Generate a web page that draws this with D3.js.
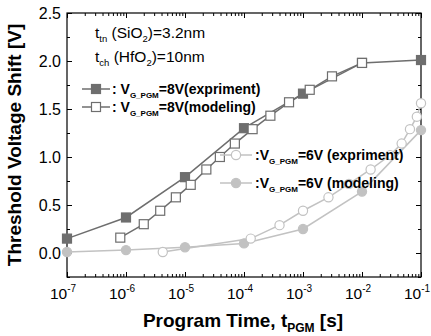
<!DOCTYPE html>
<html><head><meta charset="utf-8">
<script src="https://cdn.jsdelivr.net/npm/d3@7"></script>
<style>body{margin:0;background:#fff;} svg{display:block;font-family:"Liberation Sans",Arial,sans-serif;}</style>
</head><body><svg id="c" width="431" height="336"></svg>
<script>
// ---- data ----
const exp8T = [1e-7, 1e-6, 1e-5, 1e-4, 1e-3, 1e-2, 1e-1];
const exp8V = [0.15, 0.37, 0.79, 1.30, 1.66, 1.98, 2.01];
const mod8T = [8e-7, 2e-6, 3.8e-6, 7e-6, 1.25e-5, 2.3e-5, 3.9e-5, 7e-5, 1.4e-4, 2.8e-4, 5.8e-4, 1.3e-3, 3.1e-3, 1e-2];
const mod8V = [0.16, 0.30, 0.44, 0.58, 0.71, 0.87, 1.00, 1.14, 1.29, 1.43, 1.57, 1.70, 1.84, 1.98];
const exp6T = [4.2e-6, 1.3e-4, 4e-4, 1e-3, 2.7e-3, 6e-3, 1.4e-2, 3e-2, 4.7e-2, 6.5e-2, 8.5e-2, 1e-1];
const exp6V = [0.01, 0.15, 0.29, 0.44, 0.58, 0.72, 0.87, 1.02, 1.14, 1.29, 1.42, 1.56];
const mod6T = [1e-7, 1e-6, 1e-5, 1e-4, 1e-3, 1e-2, 1e-1];
const mod6V = [0.01, 0.03, 0.06, 0.10, 0.25, 0.64, 1.28];
const xTickExp = [-7, -6, -5, -4, -3, -2, -1];
const yTicks = [0.0, 0.5, 1.0, 1.5, 2.0, 2.5];

const svg = d3.select("#c");
const L = 67, R = 421, T = 13, B = 277;
const x = d3.scaleLog().domain([1e-7, 1e-1]).range([L, R]);
const y = d3.scaleLinear().domain([-0.25, 2.5]).range([B, T]);

const dark = "#6e6e6e", light = "#c2c2c2";

// frame
svg.append("rect").attr("x", L).attr("y", T).attr("width", R - L).attr("height", B - T)
  .attr("fill", "none").attr("stroke", "#000").attr("stroke-width", 1.2);

// axes with inward ticks
const minorX = [];
for (let e = -7; e < -1; e++) for (let k = 2; k <= 9; k++) minorX.push(k * Math.pow(10, e));
const majorX = xTickExp.map(e => Math.pow(10, e));
const mkAxis = (axis, tr) => {
  const g = svg.append("g").attr("transform", tr).call(axis);
  g.select(".domain").remove();
  g.selectAll("line").attr("stroke", "#000");
  return g;
};
mkAxis(d3.axisBottom(x).tickValues(majorX).tickSize(-5).tickFormat(""), `translate(0,${B})`);
mkAxis(d3.axisBottom(x).tickValues(minorX).tickSize(-3).tickFormat(""), `translate(0,${B})`);
mkAxis(d3.axisTop(x).tickValues(majorX).tickSize(-5).tickFormat(""), `translate(0,${T})`);
mkAxis(d3.axisTop(x).tickValues(minorX).tickSize(-3).tickFormat(""), `translate(0,${T})`);
const minorY = d3.range(-0.25, 2.5, 0.5).map(v => +v.toFixed(2));
mkAxis(d3.axisLeft(y).tickValues(yTicks).tickSize(-5).tickFormat(""), `translate(${L},0)`);
mkAxis(d3.axisLeft(y).tickValues(minorY).tickSize(-3).tickFormat(""), `translate(${L},0)`);
mkAxis(d3.axisRight(y).tickValues(yTicks).tickSize(-5).tickFormat(""), `translate(${R},0)`);
mkAxis(d3.axisRight(y).tickValues(minorY).tickSize(-3).tickFormat(""), `translate(${R},0)`);

// tick labels
yTicks.forEach(v => {
  svg.append("text").attr("x", 61).attr("y", y(v) + 5.5).attr("text-anchor", "end")
    .attr("font-size", 16).text(v.toFixed(1));
});
xTickExp.forEach(e => {
  const t = svg.append("text").attr("x", x(Math.pow(10, e)) - 4).attr("y", 299)
    .attr("text-anchor", "middle").attr("font-size", 15.5);
  t.append("tspan").text("10");
  t.append("tspan").attr("dy", -7).attr("font-size", 10).text("-" + (-e));
});

// axis titles
svg.append("text").attr("transform", `translate(21,145) rotate(-90)`)
  .attr("text-anchor", "middle").attr("font-size", 19).attr("font-weight", "bold")
  .text("Threshold Voltage Shift [V]");
const xl = svg.append("text").attr("x", 243).attr("y", 327).attr("text-anchor", "middle")
  .attr("font-size", 19).attr("font-weight", "bold");
xl.append("tspan").text("Program Time, t");
xl.append("tspan").attr("dy", 5).attr("font-size", 12).text("PGM");
xl.append("tspan").attr("dy", -5).text(" [s]");

// series
const line = d3.line().x(d => x(d[0])).y(d => y(d[1]));
const zip = (a, b) => a.map((t, i) => [t, b[i]]);
const series = [
  {d: zip(mod6T, mod6V), color: light, shape: "circle", fill: light},
  {d: zip(exp6T, exp6V), color: light, shape: "circle", fill: "#fff"},
  {d: zip(exp8T, exp8V), color: dark, shape: "square", fill: dark},
  {d: zip(mod8T, mod8V), color: dark, shape: "square", fill: "#fff"}
];
series.forEach(s => {
  svg.append("path").attr("d", line(s.d)).attr("fill", "none")
    .attr("stroke", s.color).attr("stroke-width", 1.5);
});
const drawMarker = (g, cx, cy, s) => {
  if (s.shape === "square") {
    g.append("rect").attr("x", cx - 4.5).attr("y", cy - 4.5).attr("width", 9).attr("height", 9)
      .attr("fill", s.fill).attr("stroke", s.color).attr("stroke-width", 1.2);
  } else {
    g.append("circle").attr("cx", cx).attr("cy", cy).attr("r", 4.6)
      .attr("fill", s.fill).attr("stroke", s.color).attr("stroke-width", 1.2);
  }
};
series.forEach(s => {
  const g = svg.append("g");
  s.d.forEach(p => drawMarker(g, x(p[0]), y(p[1]), s));
});

// annotation
const ann = (yy, sub1, mid, post) => {
  const a = svg.append("text").attr("x", 95).attr("y", yy).attr("font-size", 15.5);
  a.append("tspan").text("t");
  a.append("tspan").attr("dy", 4).attr("font-size", 9.5).text(sub1);
  a.append("tspan").attr("dy", -4).text(mid);
  a.append("tspan").attr("dy", 4).attr("font-size", 9.5).text("2");
  a.append("tspan").attr("dy", -4).text(post);
};
ann(38, "tn", " (SiO", ")=3.2nm");
ann(62, "ch", " (HfO", ")=10nm");

// legends
const legend = [
  {s: series[2], x0: 82, x1: 110, ty: 89, tx: 112, pre: ": V", post: "=8V(expriment)"},
  {s: series[3], x0: 82, x1: 110, ty: 107, tx: 112, pre: ": V", post: "=8V(modeling)"},
  {s: series[1], x0: 220, x1: 252, ty: 155, tx: 255, pre: ":V", post: "=6V (expriment)"},
  {s: series[0], x0: 220, x1: 252, ty: 183, tx: 255, pre: ":V", post: "=6V (modeling)"}
];
legend.forEach(l => {
  svg.append("line").attr("x1", l.x0).attr("x2", l.x1).attr("y1", l.ty).attr("y2", l.ty)
    .attr("stroke", l.s.color).attr("stroke-width", 1.5);
  drawMarker(svg, (l.x0 + l.x1) / 2, l.ty, l.s);
  const t = svg.append("text").attr("x", l.tx).attr("y", l.ty + 5).attr("font-size", 14)
    .attr("font-weight", "bold");
  t.append("tspan").text(l.pre);
  t.append("tspan").attr("dy", 4).attr("font-size", 8).text("G_PGM");
  t.append("tspan").attr("dy", -4).text(l.post);
});
</script></body></html>
